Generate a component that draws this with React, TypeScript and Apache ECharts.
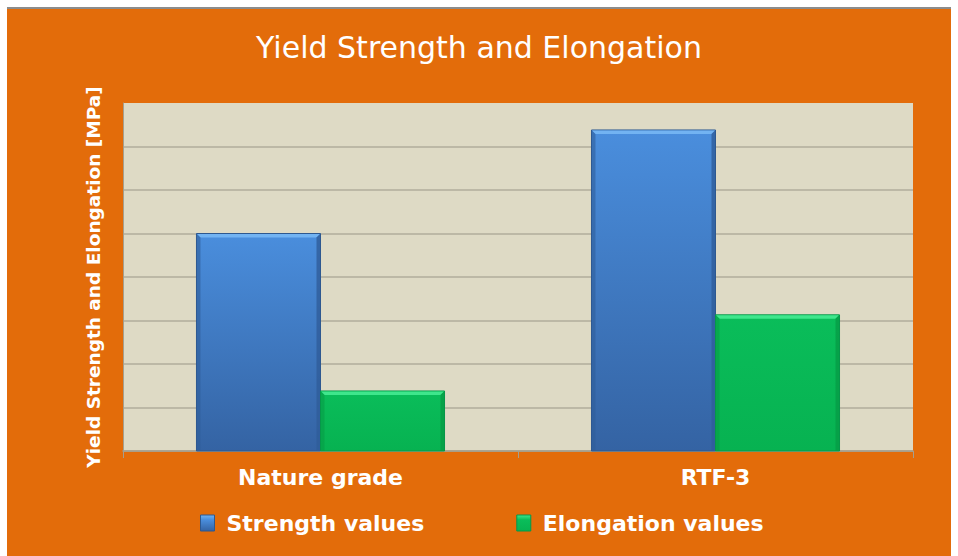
import React, { useEffect, useRef } from "react";
import * as echarts from "echarts";

const categories = ["Nature grade", "RTF-3"];
const seriesNames = ["Strength values", "Elongation values"];
const strengthValues = [500, 738];
const elongationValues = [138, 313];
const yMin = 0;
const yMax = 800;
const yInterval = 100;

const FONT = "'DejaVu Sans', sans-serif";

const palettes = [
  { top: "#4A8EDD", bottom: "#3463A3", bevel: "#72B3F2", side: "#2F5D9A", stroke: "#2D5890" },
  { top: "#0ABD5A", bottom: "#07B251", bevel: "#3FE68C", side: "#069C46", stroke: "#06974A" },
];

function makeRenderItem(seriesIndex: number) {
  const p = palettes[seriesIndex];
  return (params: any, api: any) => {
    const idx = api.value(0);
    const v = api.value(1);
    const topPt = api.coord([idx, v]);
    const basePt = api.coord([idx, 0]);
    const band = api.size([1, 0])[0];
    const bw = band * 0.314;
    const x0 = seriesIndex === 0 ? topPt[0] - bw : topPt[0];
    const x1 = x0 + bw;
    const y0 = topPt[1];
    const y1 = basePt[1];
    const b = 4;
    return {
      type: "group",
      children: [
        {
          type: "rect",
          shape: { x: x0, y: y0, width: bw, height: y1 - y0 },
          style: {
            fill: new echarts.graphic.LinearGradient(0, 0, 0, 1, [
              { offset: 0, color: p.top },
              { offset: 1, color: p.bottom },
            ]),
            stroke: p.stroke,
            lineWidth: 1,
          },
        },
        {
          type: "polygon",
          shape: { points: [[x0 + 0.5, y0 + 0.5], [x1 - 0.5, y0 + 0.5], [x1 - b, y0 + b], [x0 + b, y0 + b]] },
          style: { fill: p.bevel },
        },
        {
          type: "polygon",
          shape: { points: [[x0 + 0.5, y0 + 0.5], [x0 + b, y0 + b], [x0 + b, y1], [x0 + 0.5, y1]] },
          style: { fill: p.side, opacity: 0.6 },
        },
        {
          type: "polygon",
          shape: { points: [[x1 - 0.5, y0 + 0.5], [x1 - b, y0 + b], [x1 - b, y1], [x1 - 0.5, y1]] },
          style: { fill: p.side, opacity: 0.8 },
        },
      ],
    };
  };
}

export default function App() {
  const ref = useRef<HTMLDivElement>(null);
  useEffect(() => {
    if (!ref.current) return;
    const chart = echarts.init(ref.current, undefined, { renderer: "svg" });
    const seriesData = [strengthValues, elongationValues];
    chart.setOption({
      animation: false,
      backgroundColor: "transparent",
      title: {
        text: "Yield Strength and Elongation",
        left: "center",
        top: 27,
        textStyle: { color: "#FFFFFF", fontFamily: FONT, fontSize: 30, fontWeight: "normal" },
      },
      legend: {
        left: 195,
        top: 507,
        itemWidth: 14,
        itemHeight: 16,
        itemGap: 92,
        icon: "rect",
        textStyle: { color: "#FFFFFF", fontFamily: FONT, fontSize: 22, fontWeight: "bold", padding: [0, 0, 0, 7] },
        data: seriesNames.map((n, i) => ({
          name: n,
          icon: "rect",
          itemStyle: {
            color: new echarts.graphic.LinearGradient(0, 0, 0, 1, [
              { offset: 0, color: palettes[i].bevel },
              { offset: 0.3, color: palettes[i].top },
              { offset: 1, color: palettes[i].bottom },
            ]),
            borderColor: palettes[i].stroke,
            borderWidth: 1,
          },
        })),
      },
      grid: { left: 123, right: 45, top: 103, bottom: 105, show: true, backgroundColor: "#DEDAC5", borderWidth: 0 },
      xAxis: {
        type: "category",
        data: categories,
        axisLine: { show: true, lineStyle: { color: "#A59F8E", width: 1.5 } },
        axisTick: { show: true, length: 7, lineStyle: { color: "#A59F8E" } },
        axisLabel: { color: "#FFFFFF", fontFamily: FONT, fontSize: 22, fontWeight: "bold", margin: 15 },
      },
      yAxis: {
        type: "value",
        min: yMin,
        max: yMax,
        interval: yInterval,
        name: "Yield Strength and Elongation [MPa]",
        nameLocation: "middle",
        nameGap: 20,
        nameTextStyle: { color: "#FFFFFF", fontFamily: FONT, fontSize: 18.5, fontWeight: "bold" },
        axisLine: { show: true, lineStyle: { color: "#A59F8E", width: 1 } },
        axisTick: { show: false },
        axisLabel: { show: false },
        splitLine: { show: true, showMaxLine: false, lineStyle: { color: "#B1AC9B", width: 1.5 } },
      },
      series: seriesNames.map((n, i) => ({
        name: n,
        type: "custom",
        renderItem: makeRenderItem(i),
        itemStyle: { color: palettes[i].top },
        encode: { x: 0, y: 1 },
        data: seriesData[i].map((v, k) => [k, v]),
      })),
    });
    return () => chart.dispose();
  }, []);
  return (
    <div style={{ position: "fixed", left: 0, top: 0, width: 958, height: 556, background: "#FFFFFF" }}>
      <div
        style={{
          position: "absolute",
          left: 7,
          top: 7,
          width: 944,
          height: 549,
          background: "#E36C0A",
          borderTop: "2px solid #8C8C8C",
          boxSizing: "border-box",
        }}
      />
      <div ref={ref} style={{ position: "absolute", left: 0, top: 0, width: 958, height: 556 }} />
    </div>
  );
}
